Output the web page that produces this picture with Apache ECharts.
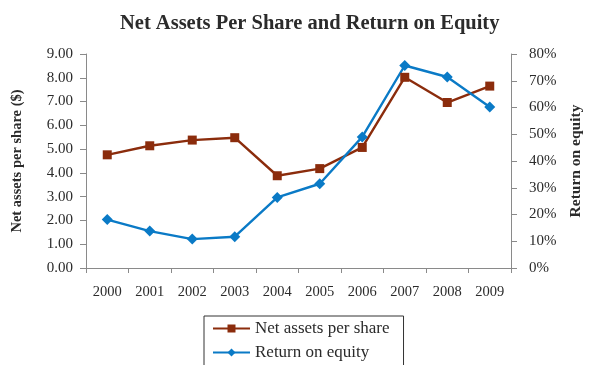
<!DOCTYPE html>
<html>
<head>
<meta charset="utf-8">
<script src="https://cdn.jsdelivr.net/npm/echarts@6/dist/echarts.min.js"></script>
<style>
  html, body { margin: 0; padding: 0; background: #fff; }
  #chart { width: 594px; height: 365px; }
</style>
</head>
<body>
<div id="chart"></div>
<script>
// Years on the category axis
const years = ['2000', '2001', '2002', '2003', '2004', '2005', '2006', '2007', '2008', '2009'];
// Net assets per share, in dollars
const netAssets = [4.76, 5.14, 5.38, 5.48, 3.88, 4.18, 5.07, 8.02, 6.96, 7.65];
// Return on equity, in percent
const roe = [18.1, 13.8, 10.8, 11.7, 26.4, 31.5, 49.0, 75.7, 71.4, 60.2];

const serif = '"Liberation Serif", "DejaVu Serif", serif';
const textColor = '#2b2b2b';
const axisColor = '#8a8a8a';

const chart = echarts.init(document.getElementById('chart'), null, { renderer: 'canvas' });

chart.setOption({
  animation: false,
  backgroundColor: '#fff',
  textStyle: { fontFamily: serif, color: textColor },
  title: {
    text: 'Net Assets Per Share and Return on Equity',
    left: 115,
    top: 8,
    textStyle: { fontFamily: serif, fontSize: 20.5, fontWeight: 'bold', color: textColor }
  },
  legend: {
    orient: 'vertical',
    left: 204,
    top: 316,
    height: 90,
    itemWidth: 37,
    itemHeight: 10,
    itemGap: 7,
    padding: [4, 14, 12, 8],
    borderColor: '#333',
    borderWidth: 1,
    textStyle: { fontFamily: serif, fontSize: 17, color: textColor },
    data: ['Net assets per share', 'Return on equity']
  },
  grid: { left: 86, right: 83, top: 54, bottom: 97, containLabel: false },
  xAxis: {
    type: 'category',
    data: years,
    boundaryGap: true,
    axisLine: { lineStyle: { color: axisColor, width: 1 } },
    axisTick: { show: true, length: 5, lineStyle: { color: axisColor } },
    axisLabel: { fontFamily: serif, fontSize: 14.5, color: textColor, margin: 17 }
  },
  yAxis: [
    {
      type: 'value',
      min: 0, max: 9, interval: 1,
      position: 'left',
      name: 'Net assets per share ($)',
      nameLocation: 'middle',
      nameRotate: 90,
      nameGap: 61,
      nameTextStyle: { fontFamily: serif, fontSize: 14.5, fontWeight: 'bold', color: textColor },
      axisLine: { show: true, lineStyle: { color: axisColor } },
      axisTick: { show: true, length: 6, lineStyle: { color: axisColor } },
      splitLine: { show: false },
      axisLabel: {
        fontFamily: serif, fontSize: 15, color: textColor, margin: 13,
        formatter: v => v.toFixed(2)
      }
    },
    {
      type: 'value',
      min: 0, max: 80, interval: 10,
      position: 'right',
      name: 'Return on equity',
      nameLocation: 'middle',
      nameRotate: 90,
      nameGap: 57,
      nameTextStyle: { fontFamily: serif, fontSize: 15.5, fontWeight: 'bold', color: textColor },
      axisLine: { show: true, lineStyle: { color: axisColor } },
      axisTick: { show: true, length: 6, lineStyle: { color: axisColor } },
      splitLine: { show: false },
      axisLabel: {
        fontFamily: serif, fontSize: 15, color: textColor, margin: 18,
        formatter: v => v + '%'
      }
    }
  ],
  series: [
    {
      name: 'Net assets per share',
      type: 'line',
      yAxisIndex: 0,
      data: netAssets,
      symbol: 'rect',
      symbolSize: 9,
      lineStyle: { color: '#8b2c0c', width: 2.4 },
      itemStyle: { color: '#8b2c0c' }
    },
    {
      name: 'Return on equity',
      type: 'line',
      yAxisIndex: 1,
      data: roe,
      symbol: 'diamond',
      symbolSize: 11,
      lineStyle: { color: '#0a7ac6', width: 2.4 },
      itemStyle: { color: '#0a7ac6' }
    }
  ]
});
</script>
</body>
</html>
